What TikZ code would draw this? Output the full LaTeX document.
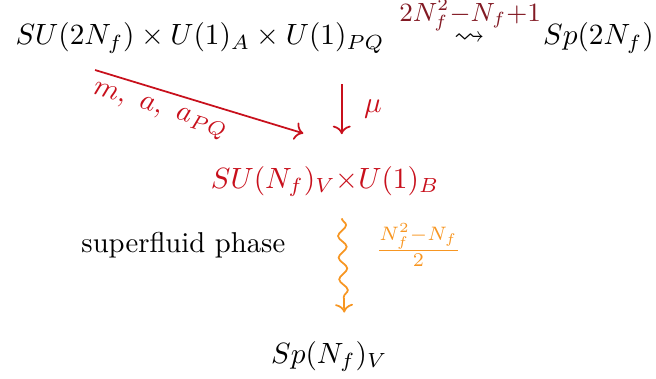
\documentclass[tikz,border=0pt]{standalone}
\usepackage{amsmath}
\usepackage{amssymb}
\usepackage{xcolor}
\usepackage{tikz}
\usetikzlibrary{arrows.meta,calc,decorations.pathmorphing}

\definecolor{brkred}{RGB}{200,16,28}
\definecolor{cntred}{RGB}{130,26,36}
\definecolor{sforange}{RGB}{247,150,34}

\begin{document}
\begin{tikzpicture}[
    grp/.style={anchor=base,inner sep=0.5pt,font=\fontsize{10.4}{12.5}\selectfont},
    brk/.style={->,brkred,semithick},
    wig/.style={->,sforange,semithick,decorate,
      decoration={snake,amplitude=0.5mm,segment length=2.6mm,post length=1.8mm}}]
  \useasboundingbox (0,0) rectangle (7.87,4.54);
  % groups
  \node[grp] (G) at (2.40,4.00) {$SU(2N_f)\times U(1)_A\times U(1)_{PQ}$};
  \node[grp] (sq) at (5.63,4.00) {$\rightsquigarrow$};
  \node[cntred,font=\small,inner sep=0pt] (nG) at (5.64,4.36) {$2N_f^2{-}N_f{+}1$};
  \node[grp] (H) at (7.18,4.00) {$Sp(2N_f)$};
  \node[grp,brkred] (M) at (3.90,2.28) {$SU(N_f)_V{\times}U(1)_B$};
  \node[grp] (V) at (3.95,0.18) {$Sp(N_f)_V$};
  \node[grp,font=\fontsize{9.8}{12}\selectfont] (sf) at (2.20,1.51) {superfluid phase};
  % arrows
  \coordinate (d0) at (1.14,3.70);
  \coordinate (d1) at (3.64,2.94);
  \draw[brk] (d0) -- (d1) node[pos=0.34,below,sloped,brkred] {$m,\ a,\ a_{PQ}$};
  \coordinate (v0) at (4.10,3.53);
  \coordinate (v1) at (4.10,2.93);
  \draw[brk] (v0) -- (v1) node[midway,right=4pt,brkred] {$\mu$};
  \coordinate (w0) at (4.10,1.92);
  \coordinate (w1) at (4.13,0.79);
  \draw[wig] (w0) -- (w1);
  \node[sforange,scale=0.95] (nV) at (5.02,1.60) {$\frac{N_f^2-N_f}{2}$};
\end{tikzpicture}
\end{document}
